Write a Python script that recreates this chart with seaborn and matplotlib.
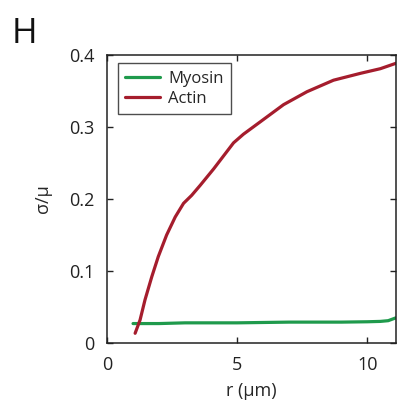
import numpy as np
import pandas as pd
import matplotlib
matplotlib.use("Agg")
import matplotlib.pyplot as plt
import seaborn as sns

# Data
actin_r = [1.08, 1.27, 1.46, 1.72, 1.97, 2.29, 2.62, 2.94, 3.25, 3.58, 4.10, 4.86, 5.24, 5.88, 6.78, 7.68, 8.70, 9.73, 10.5, 11.1]
actin_v = [0.0135, 0.032, 0.060, 0.092, 0.120, 0.150, 0.175, 0.194, 0.205, 0.219, 0.242, 0.278, 0.290, 0.307, 0.331, 0.349, 0.365, 0.3745, 0.381, 0.3885]
myosin_r = [1.0, 2.0, 3.0, 4.0, 5.0, 6.0, 7.0, 8.0, 9.0, 10.0, 10.5, 10.8, 11.1]
myosin_v = [0.027, 0.027, 0.028, 0.028, 0.028, 0.0285, 0.029, 0.029, 0.029, 0.0295, 0.030, 0.031, 0.035]

series_names = ["Myosin", "Actin"]
colors = {"Myosin": "#1f9a4c", "Actin": "#a51d2d"}
x_ticks = [0, 5, 10]
y_ticks = [0, 0.1, 0.2, 0.3, 0.4]
x_ticklabels = ["0", "5", "10"]
y_ticklabels = ["0", "0.1", "0.2", "0.3", "0.4"]

df = pd.concat([
    pd.DataFrame({"r": myosin_r, "v": myosin_v, "series": "Myosin"}),
    pd.DataFrame({"r": actin_r, "v": actin_v, "series": "Actin"}),
])

sns.set_style("ticks")
plt.rcParams["font.family"] = ["Open Sans", "DejaVu Sans"]

fig = plt.figure(figsize=(3.98, 4.03), dpi=100)
ax = fig.add_axes([107/398, 1 - 343/403, (396-107)/398, (343-55)/403])

sns.lineplot(data=df, x="r", y="v", hue="series", hue_order=series_names,
             palette=colors, linewidth=2.3, ax=ax, sort=True, estimator=None,
             solid_joinstyle="round", solid_capstyle="round")

ax.set_xlim(0, 11.1)
ax.set_ylim(0, 0.4)
ax.set_xticks(x_ticks)
ax.set_yticks(y_ticks)
ax.set_xticklabels(x_ticklabels)
ax.set_yticklabels(y_ticklabels)
ax.tick_params(direction="in", top=True, right=True, length=4, width=1,
               labelsize=13, colors="#222222", pad=9)
for s in ax.spines.values():
    s.set_visible(True)
    s.set_linewidth(1.1)
    s.set_color("#222222")

ax.set_xlabel("r (μm)", fontsize=13, labelpad=6)
ax.set_ylabel("σ/μ", fontsize=13, labelpad=12)

leg = ax.legend(loc="upper left", bbox_to_anchor=(0.038, 0.972), borderaxespad=0,
                fontsize=12, frameon=True, fancybox=False, edgecolor="#222222",
                handlelength=2.1, borderpad=0.45, labelspacing=0.25, handletextpad=0.45)
leg.get_frame().set_linewidth(1.0)

fig.text(12/398, 1 - 43/403, "H", fontsize=25, ha="left", va="baseline", color="#111111")

fig.savefig("out.png", dpi=100)
